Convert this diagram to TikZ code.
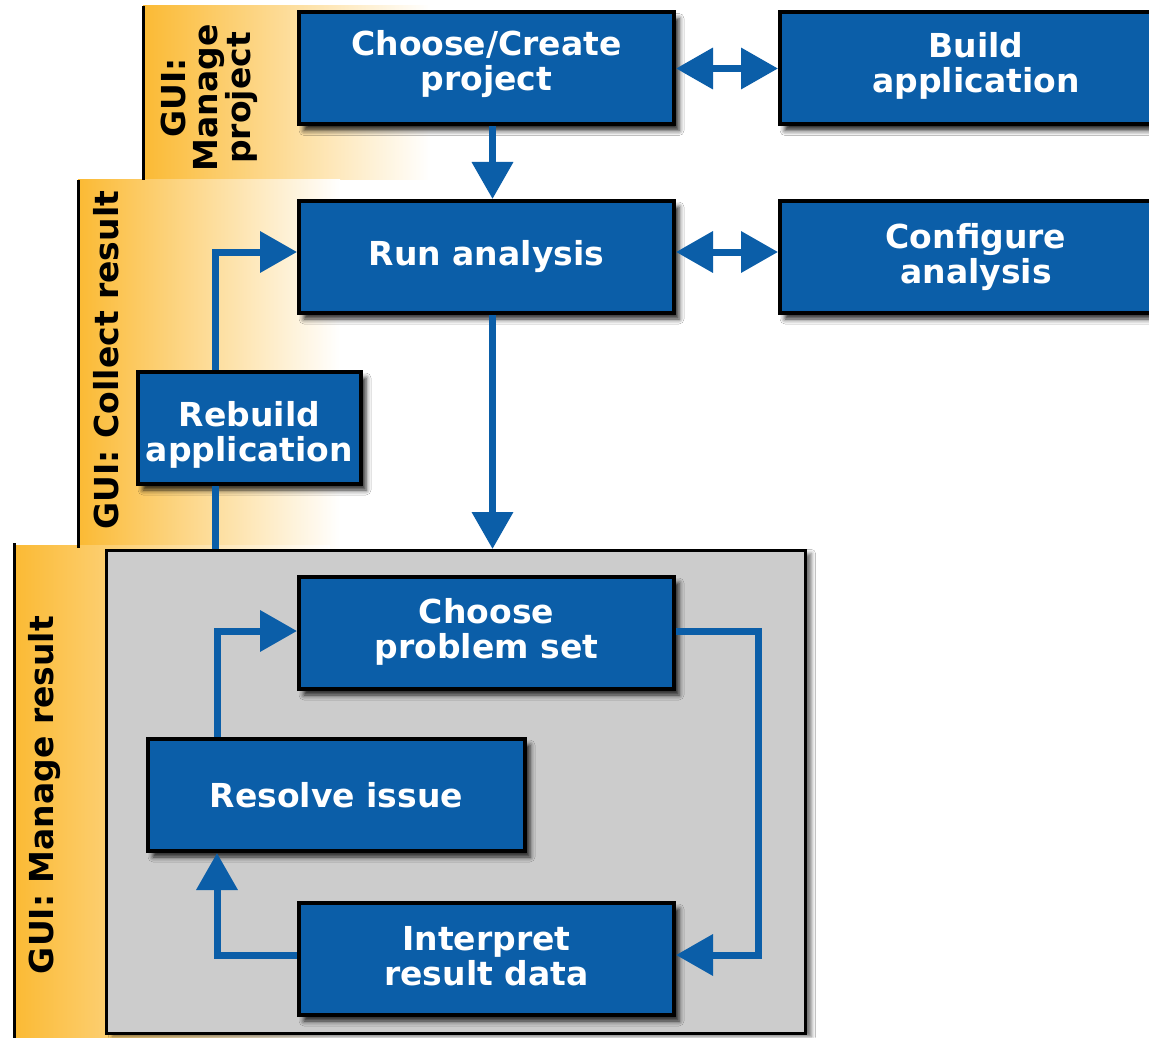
\documentclass[tikz,border=0pt]{standalone}
\usepackage{fontspec}
\setmainfont{DejaVu Sans}
\usetikzlibrary{arrows.meta,shadows.blur,calc}
\definecolor{boxblue}{RGB}{11,94,168}
\definecolor{bandorange}{RGB}{251,186,52}
\definecolor{panelgray}{RGB}{204,204,204}
\newcommand{\liftlines}[3]{\raisebox{#1}[\height][\depth]{\parbox{#2}{\centering #3}}}
\begin{document}
\begin{tikzpicture}[x=1pt,y=-1pt,
  stepbox/.style={draw=black, line width=4pt, fill=boxblue, text=white,
    font=\bfseries\fontsize{33}{35}\selectfont, align=center,
    minimum height=112pt, inner sep=0pt,
    blur shadow={shadow xshift=5pt, shadow yshift=-6pt, shadow blur radius=5pt, shadow opacity=85}},
  lane/.style={font=\bfseries\fontsize{33}{32}\selectfont, text=black, rotate=90, align=center, inner sep=0pt},
  link/.style={draw=boxblue, line width=7pt},
  flow/.style={link, -{Triangle[length=37pt,width=40pt]}},
  biflow/.style={link, {Triangle[length=37pt,width=40pt]}-{Triangle[length=37pt,width=40pt]}},
  band/.style={left color=bandorange, right color=white},
  bandline/.style={draw=black, line width=3pt}
]
\useasboundingbox (0,0) rectangle (1149,1038);
\clip (0,0) rectangle (1149,1038);
\fill[white] (0,0) rectangle (1149,1038);

% swim lanes
\shade[band] (143,6) rectangle (430,180);
\shade[band] (78,180) rectangle (340,548);
\shade[band] (14,545) rectangle (330,1038);
\draw[bandline] (143,6) -- (143,180);
\draw[bandline] (78,180) -- (78,548);
\draw[bandline] (14,543) -- (14,1040);
\node[lane] (lane1) at (209,98) {GUI:\\Manage\\project};
\node[lane] (lane2) at (106,360) {GUI: Collect result};
\node[lane] (lane3) at (45,795) {GUI: Manage result};

% grey panel
\node[draw=black, line width=3pt, fill=panelgray, minimum width=699pt, minimum height=483pt, inner sep=0pt,
  blur shadow={shadow xshift=6pt, shadow yshift=-3pt, shadow blur radius=4pt, shadow opacity=55}] (gray) at (456,792) {};

% boxes
\node[stepbox, minimum width=375pt] (cc) at (486.5,68.5) {\liftlines{4pt}{375pt}{Choose/Create\\project}};
\node[stepbox, minimum width=392pt] (build) at (976,68.5) {\liftlines{3pt}{392pt}{Build\\application}};
\node[stepbox, minimum width=375pt] (run) at (486.5,257) {Run analysis};
\node[stepbox, minimum width=392pt] (config) at (976,257) {Configure\\analysis};
\node[stepbox, minimum width=223pt] (rebuild) at (249.5,428) {\liftlines{-7pt}{223pt}{Rebuild\\application}};
\node[stepbox, minimum width=375pt] (cps) at (486.5,633) {\liftlines{1pt}{375pt}{Choose\\problem set}};
\node[stepbox, minimum width=377pt] (resolve) at (336.5,795) {Resolve issue};
\node[stepbox, minimum width=375pt] (interp) at (486.5,959) {\liftlines{3pt}{375pt}{Interpret\\result data}};

% helper coordinates
\coordinate (rx) at (215,0);
\coordinate (lx) at (217,0);
\coordinate (fx) at (758,0);
\coordinate (iE) at ([yshift=4pt]interp.east);
\coordinate (iW) at ([yshift=4pt]interp.west);

% connectors
\draw[biflow] (cc.east) -- (build.west);
\draw[biflow] ([yshift=5pt]run.east) -- ([yshift=5pt]config.west);
\draw[flow] ([xshift=6pt]cc.south) -- ([xshift=6pt]run.north);
\draw[flow] ([xshift=6pt]run.south) -- ([xshift=6pt]run.south |- gray.north);
\draw[link] (gray.north -| rx) -- (rebuild.south -| rx);
\draw[flow] (rebuild.north -| rx) |- ([yshift=5pt]run.west);
\draw[flow] (resolve.north -| lx) |- ([yshift=2pt]cps.west);
\draw[flow] ([yshift=2pt]cps.east) -| (fx |- iE) -- (iE);
\draw[flow] (iW) -| (resolve.south -| lx);
\end{tikzpicture}
\end{document}
